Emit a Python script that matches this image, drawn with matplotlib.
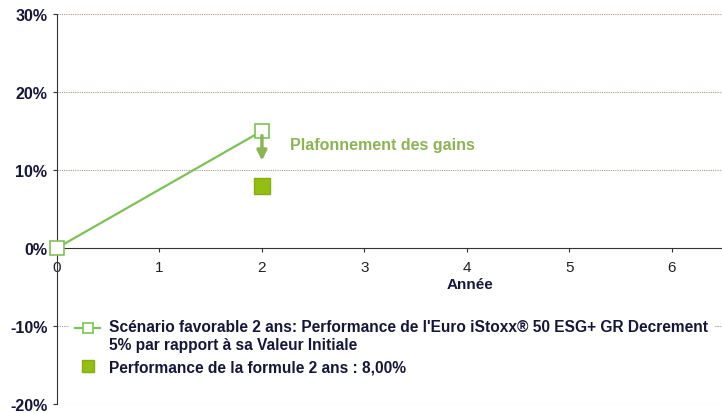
import numpy as np
import matplotlib
matplotlib.use('Agg')
import matplotlib.pyplot as plt
from matplotlib.ticker import FuncFormatter
from matplotlib.legend_handler import HandlerLine2D
from matplotlib.transforms import Affine2D

plt.rcParams['font.family'] = ['Liberation Sans', 'DejaVu Sans']

# data
scenarioYears = [0, 2]
scenarioPerf = [0.0, 15.0]
formuleYears = [2]
formulePerf = [8.0]
xTicks = [0, 1, 2, 3, 4, 5, 6]
yTicks = [-20, -10, 0, 10, 20, 30]
labelScenario = "Scénario favorable 2 ans: Performance de l'Euro iStoxx® 50 ESG+ GR Decrement\n5% par rapport à sa Valeur Initiale"
labelFormule = "Performance de la formule 2 ans : 8,00%"
navy = '#16163a'
lineGreen = '#7cc255'
squareGreen = '#93bf14'
arrowGreen = '#8db454'


class HandlerFirstLine(HandlerLine2D):
    # put the legend handle on the first text line instead of the middle
    def create_artists(self, legend, orig_handle, xdescent, ydescent, width, height, fontsize, trans):
        shift = Affine2D().translate(0, 6) + trans
        return super().create_artists(legend, orig_handle, xdescent, ydescent, width, height, fontsize, shift)


fig = plt.figure(figsize=(7.22, 4.14), dpi=100)
ax = fig.add_axes([57/722, 9/414, 665/722, 390/414])

scen, = ax.plot(scenarioYears, scenarioPerf, color=lineGreen, lw=1.6, marker='s', ms=10,
                mfc='white', mec=lineGreen, mew=1.2, label=labelScenario, zorder=4, clip_on=False)
ax.plot(formuleYears, formulePerf, ls='none', marker='s', ms=11, mfc=squareGreen,
        mec='#86ad10', mew=1, label=labelFormule, zorder=4)

ax.annotate('', xy=(2, 11.2), xytext=(2, 14.4),
            arrowprops=dict(arrowstyle='-|>', color=arrowGreen, lw=2.5,
                            mutation_scale=14, shrinkA=0, shrinkB=0), zorder=5)
ax.text(2.27, 13.3, 'Plafonnement des gains', color=arrowGreen, fontsize=11.5,
        fontweight='bold', va='center', ha='left')

ax.set_xlim(0, 6.49)
ax.set_ylim(-20, 30)
ax.set_xticks(xTicks)
ax.set_yticks(yTicks)
ax.yaxis.set_major_formatter(FuncFormatter(lambda v, p: '%d%%' % v))

for s in ['top', 'right']:
    ax.spines[s].set_visible(False)
ax.spines['bottom'].set_position(('data', 0))
ax.spines['bottom'].set_color('#333333')
ax.spines['left'].set_color('#333333')
ax.tick_params(axis='x', direction='out', length=3, color='#333333', labelsize=11,
               labelcolor='#222222', pad=6)
ax.tick_params(axis='y', direction='out', length=3, color='#333333', labelsize=11.5,
               labelcolor=navy, pad=4)
for t in ax.get_yticklabels():
    t.set_fontweight('bold')

for v in [-20, -10, 10, 20, 30]:
    ax.axhline(v, color='#a89a8c', lw=0.8, ls=(0, (1, 1)), zorder=1)

ax.text(4.03, -4.6, 'Année', color=navy, fontsize=11, fontweight='bold',
        ha='center', va='center')

leg = ax.legend(loc='upper left', bbox_to_anchor=(0.018, 0.235), frameon=True,
                fancybox=False, edgecolor='none', facecolor='white', framealpha=1,
                prop={'weight': 'bold', 'size': 11.2}, handlelength=1.6,
                handletextpad=0.6, labelspacing=0.45, markerscale=0.75,
                borderaxespad=0, handler_map={scen: HandlerFirstLine()})
for t in leg.get_texts():
    t.set_color(navy)
    t.set_linespacing(1.3)

fig.savefig('out.png', dpi=100)
